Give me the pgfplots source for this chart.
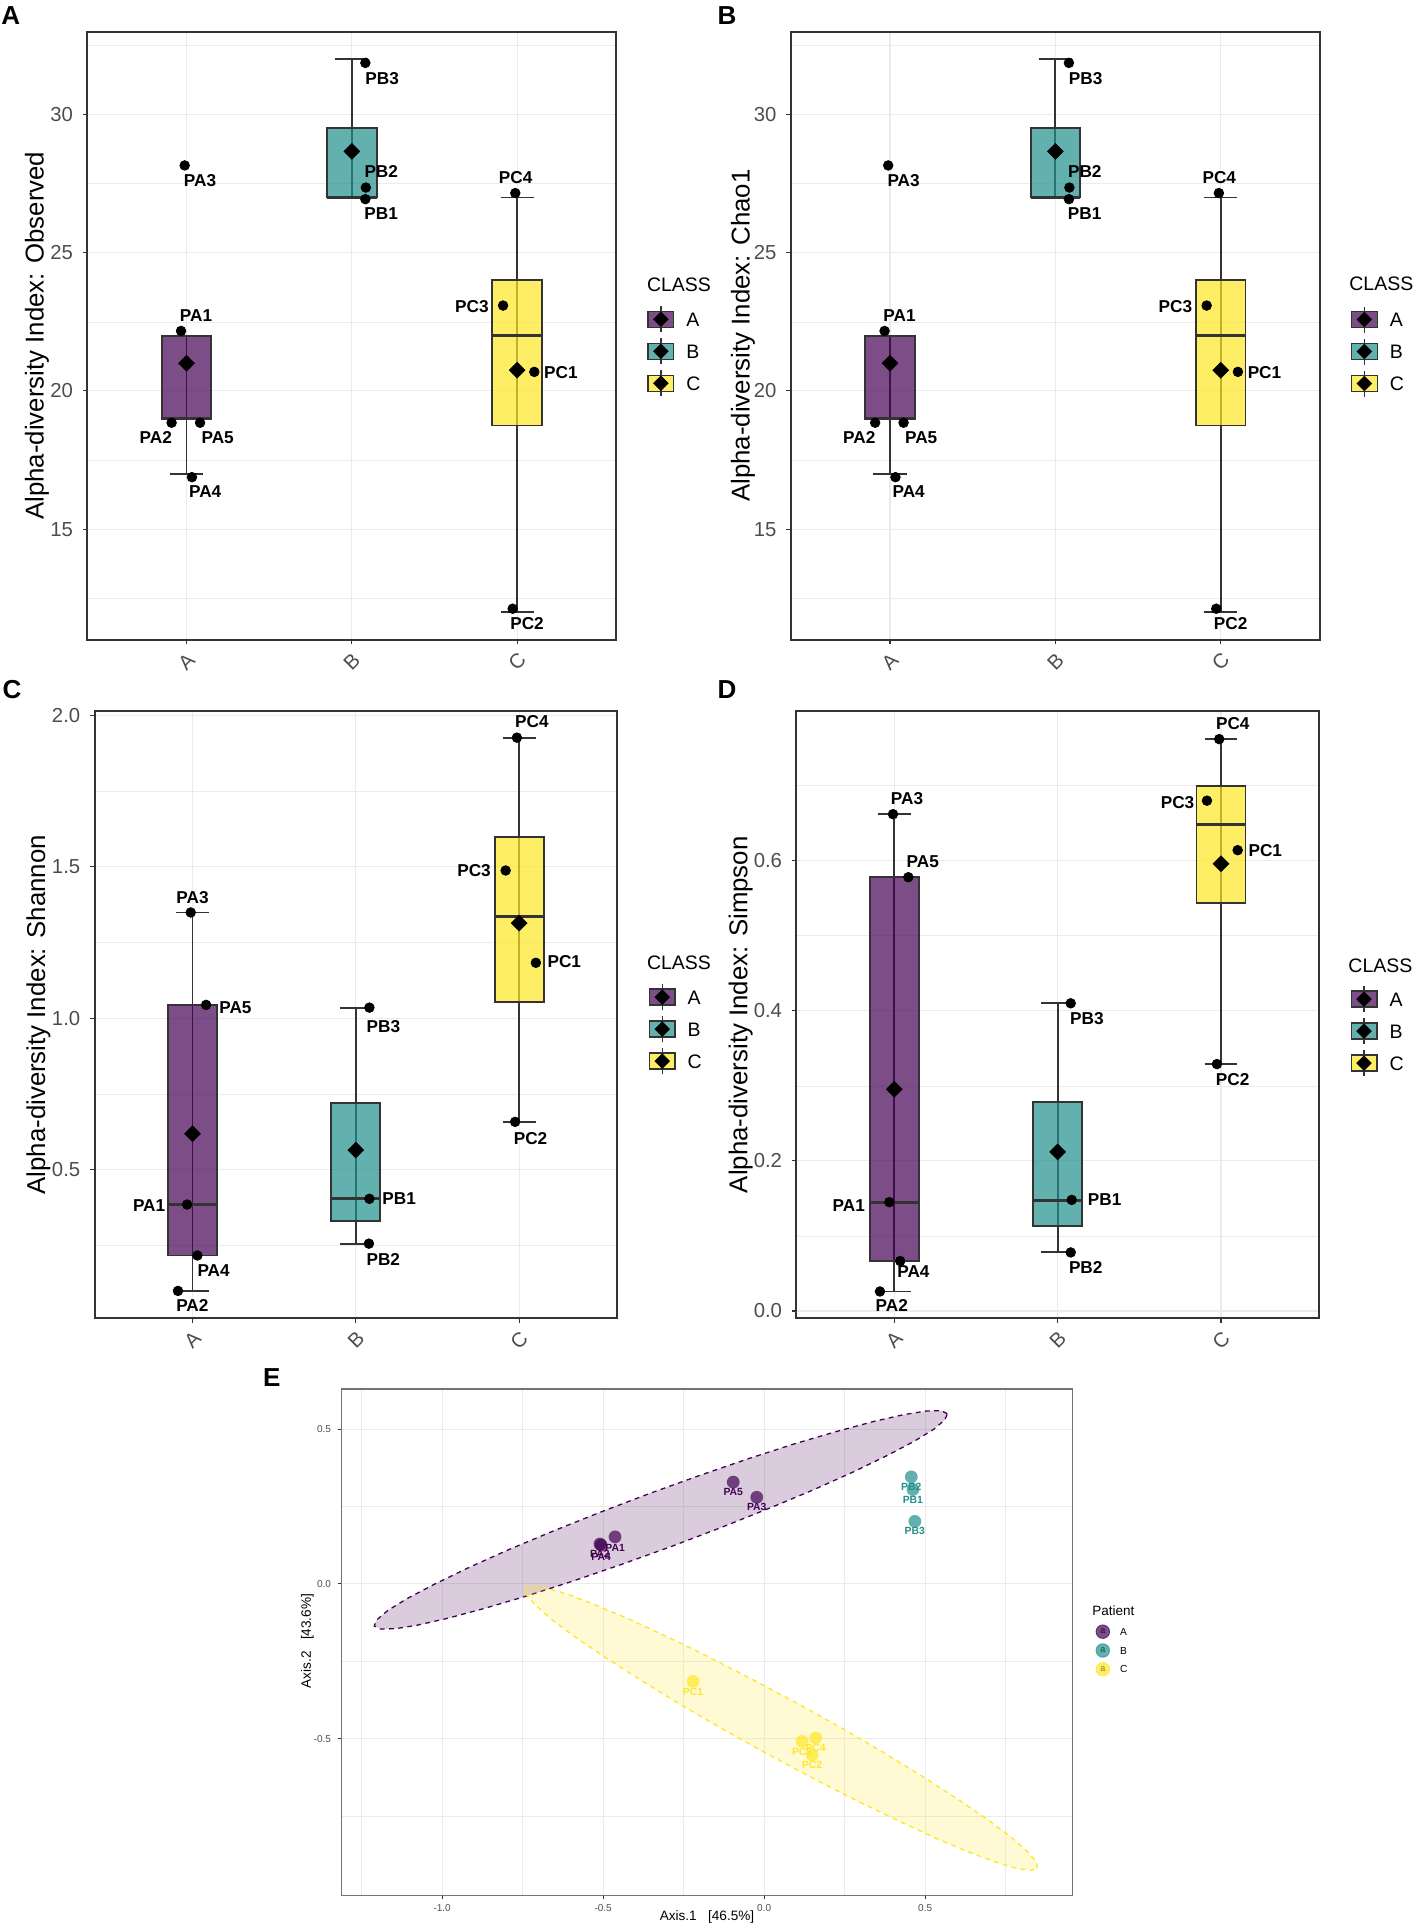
\documentclass[border=0pt]{standalone}
\usepackage{fontspec}
\setmainfont{Liberation Sans}
\usepackage{pgfplots}
\pgfplotsset{compat=1.18}

\definecolor{vA}{HTML}{440154}
\definecolor{vB}{HTML}{21908C}
\definecolor{vC}{HTML}{FDE725}
\definecolor{g20}{HTML}{333333}
\definecolor{g30}{HTML}{4D4D4D}
\definecolor{gridc}{HTML}{EBEBEB}
\newcommand\fs[1]{\fontsize{#1pt}{#1pt}\selectfont}

\pgfplotsset{
  boxax/.style={
    scale only axis, clip=false,
    xmin=0.4, xmax=3.6,
    xtick={1,2,3}, xticklabels={A,B,C},
    tick pos=left, tick align=outside,
    major tick length=2.2pt, minor tick length=0pt,
    every tick/.style={g20, line width=0.55pt},
    axis line style={g20, line width=1pt},
    xmajorgrids, ymajorgrids, yminorgrids,
    major grid style={gridc, line width=0.55pt},
    minor grid style={gridc, line width=0.3pt},
    ticklabel style={font=\fs{10.15}, text=g30},
    xticklabel style={yshift=-8.6pt, rotate=45, anchor=center, inner sep=0pt},
    yticklabel style={anchor=east, inner sep=0pt, xshift=-4.75pt},
    ylabel style={font=\fs{12.9}, anchor=center},
    legend style={draw=none, fill=none, inner sep=0pt, outer sep=0pt,
      anchor=north west, font=\fs{9.75}, row sep=2.4pt, column sep=6pt,
      nodes={inner sep=0pt, text height=10pt, text depth=3pt}},
    legend cell align=left,
  },
  wsk/.style={g20, line width=0.9pt, forget plot},
  cap/.style={g20, line width=0.95pt, forget plot},
  bx/.style={draw=g20, line width=0.95pt, fill opacity=0.7, forget plot},
  med/.style={g20, line width=1.6pt, forget plot},
  mn/.style={only marks, mark=square*, mark size=2.76pt, black,
    mark options={rotate=45}, forget plot},
  pts/.style={only marks, mark=*, mark size=2.4pt, black, forget plot,
    nodes near coords, point meta=explicit symbolic,
    visualization depends on={\thisrow{dx}\as\dx},
    visualization depends on={\thisrow{dy}\as\dy},
    every node near coord/.append style={anchor=center, font=\bfseries\fs{8.6},
      text=black, inner sep=0pt, xshift=\dx, yshift=\dy}},
  classkey/.style={legend image code/.code={
    \draw[fill=#1, fill opacity=0.7, draw=g20, line width=0.7pt] (0pt,-4pt) rectangle (12.8pt,4pt);
    \draw[g20, line width=0.6pt] (6.4pt,-6.5pt) -- (6.4pt,6.5pt);
    \fill[black] (6.4pt,3.6pt) -- (10pt,0pt) -- (6.4pt,-3.6pt) -- (2.8pt,0pt) -- cycle;
  }},
  patkey/.style={legend image code/.code={
    \fill[#1, opacity=0.7] (3.4pt,0pt) circle (3.4pt);
    \node[font=\fs{4.5}, text=#1!55!black, inner sep=0pt, text height=2.3pt, text depth=0pt, anchor=center] at (3.4pt,0pt) {a};
  }},
  eplt/.style={only marks, mark=*, mark size=3.2pt, color=#1, forget plot,
    mark options={draw opacity=0, fill=#1, fill opacity=0.7}},
  elab/.style={only marks, mark=none, forget plot,
    nodes near coords, point meta=explicit symbolic,
    visualization depends on={\thisrow{dy}\as\dy},
    every node near coord/.append style={anchor=center, font=\bfseries\fs{5.2},
      text=#1, inner sep=0pt, yshift=\dy}},
}

\pgfplotstableread{
x y lab dx dy
0.967 22.17 PA1 7.5 7.6
0.910 18.85 PA2 -7.9 -7.4
0.989 28.16 PA3 7.7 -7.6
1.033 16.88 PA4 6.6 -7.2
1.082 18.85 PA5 8.8 -7.4
2.082 26.94 PB1 7.9 -7.4
2.085 27.36 PB2 7.7 7.8
2.082 31.87 PB3 8.4 -7.6
3.104 20.69 PC1 13.3 -0.2
2.973 12.12 PC2 7.2 -7.4
2.915 23.09 PC3 -15.6 -0.6
2.989 27.16 PC4 0.2 7.6
}\obsdata

\pgfplotstableread{
x y lab dx dy
0.967 0.385 PA1 -19 -0.4
0.911 0.100 PA2 7.2 -7.4
0.989 1.349 PA3 0.9 7.2
1.030 0.217 PA4 8.1 -7.8
1.083 1.044 PA5 14.7 -1.3
2.083 0.404 PB1 14.9 0
2.080 0.256 PB2 7.2 -8.0
2.083 1.035 PB3 7.0 -9.3
3.102 1.183 PC1 14.2 0.4
2.975 0.658 PC2 7.7 -8.2
2.917 1.4875 PC3 -15.8 -0.2
2.986 1.926 PC4 7.5 8.2
}\shandata

\pgfplotstableread{
x y lab dx dy
0.970 0.145 PA1 -20.3 -1.5
0.912 0.026 PA2 5.9 -7.2
0.992 0.662 PA3 7.0 7.6
1.036 0.0666 PA4 6.6 -5.3
1.086 0.578 PA5 7.2 7.8
2.086 0.148 PB1 16.5 0
2.080 0.078 PB2 7.5 -7.6
2.080 0.410 PB3 8.1 -7.6
3.102 0.614 PC1 13.8 0
2.975 0.329 PC2 7.9 -7.8
2.914 0.680 PC3 -14.7 -0.8
2.989 0.762 PC4 6.8 8.0
}\simpdata

\pgfplotstableread{
x y lab dy
-0.463 0.152 PA1 -5.3
-0.510 0.129 PA2 -4.7
-0.023 0.280 PA3 -5
-0.506 0.125 PA4 -5.7
-0.096 0.329 PA5 -5
}\pcoaA
\pgfplotstableread{
x y lab dy
0.462 0.305 PB1 -5
0.457 0.346 PB2 -5
0.468 0.202 PB3 -5
}\pcoaB
\pgfplotstableread{
x y lab dy
-0.221 -0.315 PC1 -5.1
0.149 -0.553 PC2 -4.9
0.118 -0.509 PC3 -5.1
0.160 -0.498 PC4 -5.1
}\pcoaC

\begin{document}
\begin{tikzpicture}
\useasboundingbox (0,0) rectangle (709pt,962.5pt);

% ---------- A: Observed
\begin{axis}[boxax, at={(43.65pt,642.65pt)}, anchor=south west,
  width=264.5pt, height=304pt, ymin=11, ymax=33,
  ytick={15,20,25,30}, yticklabels={15,20,25,30},
  minor ytick={12.5,17.5,22.5,27.5,32.5},
  ylabel={Alpha-diversity Index: Observed},
  ylabel style={at={(rel axis cs:-0.0951,0.5)}},
  legend style={at={(1.0588,0.5493)}}]
\addplot[wsk] coordinates {(1,17) (1,22)};
\addplot[cap] coordinates {(0.9,17) (1.1,17)};
\addplot[cap] coordinates {(0.9,22) (1.1,22)};
\addplot[bx, fill=vA] coordinates {(0.85,19) (1.15,19) (1.15,22) (0.85,22) (0.85,19)} -- cycle;
\addplot[med] coordinates {(0.85,19) (1.15,19)};
\addplot[wsk] coordinates {(2,27) (2,32)};
\addplot[cap] coordinates {(1.9,27) (2.1,27)};
\addplot[cap] coordinates {(1.9,32) (2.1,32)};
\addplot[bx, fill=vB] coordinates {(1.85,27) (2.15,27) (2.15,29.5) (1.85,29.5) (1.85,27)} -- cycle;
\addplot[med] coordinates {(1.85,27) (2.15,27)};
\addplot[wsk] coordinates {(3,12) (3,27)};
\addplot[cap] coordinates {(2.9,12) (3.1,12)};
\addplot[cap] coordinates {(2.9,27) (3.1,27)};
\addplot[bx, fill=vC] coordinates {(2.85,18.75) (3.15,18.75) (3.15,24) (2.85,24) (2.85,18.75)} -- cycle;
\addplot[med] coordinates {(2.85,22) (3.15,22)};
\addplot[mn] coordinates {(1,21) (2,28.667) (3,20.75)};
\addplot[pts] table[meta=lab] {\obsdata};
\addlegendimage{classkey=vA}\addlegendentry{A}
\addlegendimage{classkey=vB}\addlegendentry{B}
\addlegendimage{classkey=vC}\addlegendentry{C}
\node[anchor=west, inner sep=0pt, font=\fs{9.75}] at (rel axis cs:1.0573,0.5834) {CLASS};
\end{axis}

% ---------- B: Chao1
\begin{axis}[boxax, at={(395.4pt,642.65pt)}, anchor=south west,
  width=264.55pt, height=304pt, ymin=11, ymax=33,
  ytick={15,20,25,30}, yticklabels={15,20,25,30},
  minor ytick={12.5,17.5,22.5,27.5,32.5},
  ylabel={Alpha-diversity Index: Chao1},
  ylabel style={at={(rel axis cs:-0.0905,0.5)}},
  legend style={at={(1.0586,0.5489)}}]
\addplot[wsk] coordinates {(1,17) (1,22)};
\addplot[cap] coordinates {(0.9,17) (1.1,17)};
\addplot[cap] coordinates {(0.9,22) (1.1,22)};
\addplot[bx, fill=vA] coordinates {(0.85,19) (1.15,19) (1.15,22) (0.85,22) (0.85,19)} -- cycle;
\addplot[med] coordinates {(0.85,19) (1.15,19)};
\addplot[wsk] coordinates {(2,27) (2,32)};
\addplot[cap] coordinates {(1.9,27) (2.1,27)};
\addplot[cap] coordinates {(1.9,32) (2.1,32)};
\addplot[bx, fill=vB] coordinates {(1.85,27) (2.15,27) (2.15,29.5) (1.85,29.5) (1.85,27)} -- cycle;
\addplot[med] coordinates {(1.85,27) (2.15,27)};
\addplot[wsk] coordinates {(3,12) (3,27)};
\addplot[cap] coordinates {(2.9,12) (3.1,12)};
\addplot[cap] coordinates {(2.9,27) (3.1,27)};
\addplot[bx, fill=vC] coordinates {(2.85,18.75) (3.15,18.75) (3.15,24) (2.85,24) (2.85,18.75)} -- cycle;
\addplot[med] coordinates {(2.85,22) (3.15,22)};
\addplot[mn] coordinates {(1,21) (2,28.667) (3,20.75)};
\addplot[pts] table[meta=lab] {\obsdata};
\addlegendimage{classkey=vA}\addlegendentry{A}
\addlegendimage{classkey=vB}\addlegendentry{B}
\addlegendimage{classkey=vC}\addlegendentry{C}
\node[anchor=west, inner sep=0pt, font=\fs{9.75}] at (rel axis cs:1.055,0.585) {CLASS};
\end{axis}

% ---------- C: Shannon
\begin{axis}[boxax, at={(47.25pt,303.25pt)}, anchor=south west,
  width=261.35pt, height=303.75pt, ymin=0.009, ymax=2.014,
  ytick={0.5,1,1.5,2}, yticklabels={0.5,1.0,1.5,2.0},
  minor ytick={0.25,0.75,1.25,1.75},
  ylabel={Alpha-diversity Index: Shannon},
  ylabel style={at={(rel axis cs:-0.1073,0.5)}},
  legend style={at={(1.0603,0.5514)}}]
\addplot[wsk] coordinates {(1,0.100) (1,1.349)};
\addplot[cap] coordinates {(0.9,0.100) (1.1,0.100)};
\addplot[cap] coordinates {(0.9,1.349) (1.1,1.349)};
\addplot[bx, fill=vA] coordinates {(0.85,0.217) (1.15,0.217) (1.15,1.044) (0.85,1.044) (0.85,0.217)} -- cycle;
\addplot[med] coordinates {(0.85,0.385) (1.15,0.385)};
\addplot[wsk] coordinates {(2,0.256) (2,1.035)};
\addplot[cap] coordinates {(1.9,0.256) (2.1,0.256)};
\addplot[cap] coordinates {(1.9,1.035) (2.1,1.035)};
\addplot[bx, fill=vB] coordinates {(1.85,0.330) (2.15,0.330) (2.15,0.7195) (1.85,0.7195) (1.85,0.330)} -- cycle;
\addplot[med] coordinates {(1.85,0.404) (2.15,0.404)};
\addplot[wsk] coordinates {(3,0.658) (3,1.926)};
\addplot[cap] coordinates {(2.9,0.658) (3.1,0.658)};
\addplot[cap] coordinates {(2.9,1.926) (3.1,1.926)};
\addplot[bx, fill=vC] coordinates {(2.85,1.054) (3.15,1.054) (3.15,1.597) (2.85,1.597) (2.85,1.054)} -- cycle;
\addplot[med] coordinates {(2.85,1.337) (3.15,1.337)};
\addplot[mn] coordinates {(1,0.619) (2,0.565) (3,1.314)};
\addplot[pts] table[meta=lab] {\shandata};
\addlegendimage{classkey=vA}\addlegendentry{A}
\addlegendimage{classkey=vB}\addlegendentry{B}
\addlegendimage{classkey=vC}\addlegendentry{C}
\node[anchor=west, inner sep=0pt, font=\fs{9.75}] at (rel axis cs:1.0563,0.5855) {CLASS};
\end{axis}

% ---------- D: Simpson
\begin{axis}[boxax, at={(398.15pt,303.25pt)}, anchor=south west,
  width=261.35pt, height=303.75pt, ymin=-0.010, ymax=0.7995,
  ytick={0,0.2,0.4,0.6}, yticklabels={0.0,0.2,0.4,0.6},
  minor ytick={0.1,0.3,0.5,0.7},
  ylabel={Alpha-diversity Index: Simpson},
  ylabel style={at={(rel axis cs:-0.1064,0.5)}},
  legend style={at={(1.0603,0.548)}}]
\addplot[wsk] coordinates {(1,0.026) (1,0.662)};
\addplot[cap] coordinates {(0.9,0.026) (1.1,0.026)};
\addplot[cap] coordinates {(0.9,0.662) (1.1,0.662)};
\addplot[bx, fill=vA] coordinates {(0.85,0.0666) (1.15,0.0666) (1.15,0.578) (0.85,0.578) (0.85,0.0666)} -- cycle;
\addplot[med] coordinates {(0.85,0.145) (1.15,0.145)};
\addplot[wsk] coordinates {(2,0.078) (2,0.410)};
\addplot[cap] coordinates {(1.9,0.078) (2.1,0.078)};
\addplot[cap] coordinates {(1.9,0.410) (2.1,0.410)};
\addplot[bx, fill=vB] coordinates {(1.85,0.113) (2.15,0.113) (2.15,0.279) (1.85,0.279) (1.85,0.113)} -- cycle;
\addplot[med] coordinates {(1.85,0.147) (2.15,0.147)};
\addplot[wsk] coordinates {(3,0.329) (3,0.762)};
\addplot[cap] coordinates {(2.9,0.329) (3.1,0.329)};
\addplot[cap] coordinates {(2.9,0.762) (3.1,0.762)};
\addplot[bx, fill=vC] coordinates {(2.85,0.5435) (3.15,0.5435) (3.15,0.700) (2.85,0.700) (2.85,0.5435)} -- cycle;
\addplot[med] coordinates {(2.85,0.6487) (3.15,0.6487)};
\addplot[mn] coordinates {(1,0.2955) (2,0.212) (3,0.596)};
\addplot[pts] table[meta=lab] {\simpdata};
\addlegendimage{classkey=vA}\addlegendentry{A}
\addlegendimage{classkey=vB}\addlegendentry{B}
\addlegendimage{classkey=vC}\addlegendentry{C}
\node[anchor=west, inner sep=0pt, font=\fs{9.75}] at (rel axis cs:1.0555,0.5812) {CLASS};
\end{axis}

% ---------- E: PCoA
\begin{axis}[scale only axis, clip=false, at={(170.85pt,14.95pt)}, anchor=south west,
  width=365.45pt, height=253.05pt,
  xmin=-1.312, xmax=0.958, ymin=-1.006, ymax=0.630,
  xtick={-1,-0.5,0,0.5}, xticklabels={-1.0,-0.5,0.0,0.5},
  ytick={-0.5,0,0.5}, yticklabels={-0.5,0.0,0.5},
  minor xtick={-1.25,-0.75,-0.25,0.25,0.75}, minor ytick={-0.75,-0.25,0.25},
  grid=both,
  major grid style={gridc, line width=0.5pt},
  minor grid style={gridc, line width=0.3pt},
  tick pos=left, tick align=outside, major tick length=1.8pt, minor tick length=0pt,
  every tick/.style={g20, line width=0.5pt},
  axis line style={black!55, line width=0.6pt},
  ticklabel style={font=\fs{5}, text=g30},
  xticklabel style={anchor=north, inner sep=0pt, yshift=-2.7pt},
  yticklabel style={anchor=east, inner sep=0pt, xshift=-3.35pt},
  xlabel={Axis.1\ \ \ [46.5\%]}, ylabel={Axis.2\ \ \ [43.6\%]},
  xlabel style={at={(rel axis cs:0.4998,-0.0429)}, anchor=center, font=\fs{6.8}},
  ylabel style={at={(rel axis cs:-0.0469,0.502)}, anchor=center, font=\fs{6.8}},
  legend style={draw=none, fill=none, inner sep=0pt, outer sep=0pt,
    at={(1.0315,0.5351)}, anchor=north west, font=\fs{5.1}, row sep=2pt, column sep=5pt,
    nodes={inner sep=0pt, text height=5.53pt, text depth=1.87pt}},
  legend cell align=left]
\addplot[fill=vA, fill opacity=0.2, draw=vA, line width=0.65pt,
  dash pattern=on 2.4pt off 2.2pt, forget plot] coordinates {
(0.569,0.550) (0.550,0.560) (0.504,0.559) (0.433,0.547) (0.340,0.525) (0.226,0.493)
(0.095,0.453) (-0.048,0.405) (-0.199,0.351) (-0.354,0.293) (-0.508,0.232) (-0.657,0.170)
(-0.795,0.110) (-0.919,0.052) (-1.024,-0.001) (-1.108,-0.047) (-1.169,-0.086) (-1.203,-0.116)
(-1.211,-0.136) (-1.192,-0.146) (-1.146,-0.145) (-1.075,-0.133) (-0.982,-0.111) (-0.868,-0.079)
(-0.737,-0.039) (-0.594,0.009) (-0.443,0.063) (-0.288,0.121) (-0.134,0.182) (0.015,0.244)
(0.153,0.304) (0.277,0.362) (0.382,0.415) (0.466,0.461) (0.527,0.500) (0.561,0.530)
} -- cycle;
\addplot[fill=vC, fill opacity=0.2, draw=vC, line width=0.65pt,
  dash pattern=on 2.4pt off 2.2pt, forget plot] coordinates {
(0.849,-0.919) (0.845,-0.898) (0.817,-0.864) (0.766,-0.818) (0.693,-0.761) (0.600,-0.695)
(0.491,-0.622) (0.369,-0.544) (0.237,-0.464) (0.099,-0.384) (-0.040,-0.307) (-0.176,-0.234)
(-0.305,-0.169) (-0.423,-0.112) (-0.527,-0.067) (-0.613,-0.033) (-0.679,-0.012) (-0.723,-0.006)
(-0.743,-0.013) (-0.739,-0.034) (-0.711,-0.068) (-0.660,-0.115) (-0.587,-0.172) (-0.494,-0.237)
(-0.385,-0.310) (-0.263,-0.388) (-0.131,-0.468) (0.007,-0.548) (0.146,-0.625) (0.282,-0.698)
(0.411,-0.763) (0.529,-0.820) (0.633,-0.866) (0.719,-0.899) (0.785,-0.920) (0.829,-0.926)
} -- cycle;
\addplot[eplt=vA] table {\pcoaA};
\addplot[eplt=vB] table {\pcoaB};
\addplot[eplt=vC] table {\pcoaC};
\addplot[elab=vA] table[meta=lab] {\pcoaA};
\addplot[elab=vB] table[meta=lab] {\pcoaB};
\addplot[elab=vC] table[meta=lab] {\pcoaC};
\addlegendimage{patkey=vA}\addlegendentry{A}
\addlegendimage{patkey=vB}\addlegendentry{B}
\addlegendimage{patkey=vC}\addlegendentry{C}
\node[anchor=west, inner sep=0pt, font=\fs{6.75}] at (rel axis cs:1.0265,0.5619) {Patient};
\end{axis}

% panel letters
\node[anchor=base west, inner sep=0pt, font=\bfseries\fs{13}] at (0.5pt,950pt) {A};
\node[anchor=base west, inner sep=0pt, font=\bfseries\fs{13}] at (358.6pt,950pt) {B};
\node[anchor=base west, inner sep=0pt, font=\bfseries\fs{13}] at (1.1pt,613.05pt) {C};
\node[anchor=base west, inner sep=0pt, font=\bfseries\fs{13}] at (358.6pt,613.05pt) {D};
\node[anchor=base west, inner sep=0pt, font=\bfseries\fs{13}] at (131.3pt,269pt) {E};
\end{tikzpicture}
\end{document}
